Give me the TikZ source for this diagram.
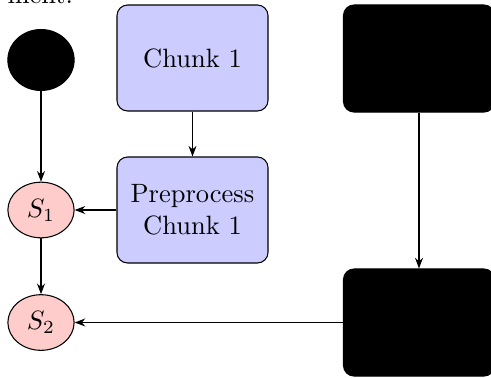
\documentclass[tikz,border=0pt]{standalone}
\usetikzlibrary{shapes.geometric,arrows.meta}
\begin{document}
\begin{tikzpicture}[x=0.3774pt,y=-0.3774pt,
  chunkbox/.style={draw,rounded corners=4pt,fill=blue!20,minimum width=57pt,minimum height=40pt,align=center,inner sep=2pt},
  darkbox/.style={draw,rounded corners=4pt,fill=black,minimum width=57pt,minimum height=40.4pt,inner sep=2pt},
  stateell/.style={draw,ellipse,fill=red!20,minimum width=25pt,minimum height=21pt,inner sep=0pt},
  darkell/.style={draw,ellipse,fill=black,minimum width=25pt,minimum height=23pt,inner sep=0pt},
  conn/.style={-{Stealth[length=4pt,width=3pt]},line width=0.4pt}]
\useasboundingbox (0,0) rectangle (491,377);
\node[anchor=base west,inner sep=0pt] (ment) at (7,3) {ment.};
\node[darkell] (start) at (41,60) {};
\node[stateell] (s1) at (41,210) {$S_1$};
\node[stateell] (s2) at (41,322.5) {$S_2$};
\node[chunkbox] (chunk) at (192.5,58) {Chunk 1};
\node[chunkbox] (prep) at (192.5,210) {Preprocess\\Chunk 1};
\node[darkbox] (b1) at (419,58.5) {};
\node[darkbox] (b2) at (419,322.5) {};
\draw[conn] (start) -- (s1);
\draw[conn] (s1) -- (s2);
\draw[conn] (chunk) -- (prep);
\draw[conn] (prep) -- (s1);
\draw[conn] (b1) -- (b2);
\draw[conn] (b2) -- (s2);
\end{tikzpicture}
\end{document}
